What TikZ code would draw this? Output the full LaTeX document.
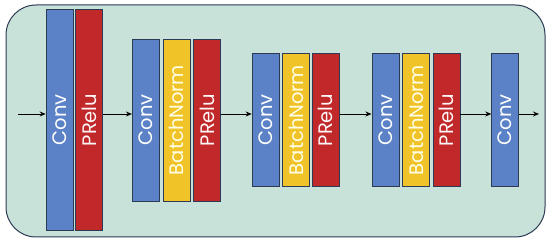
\documentclass[tikz,border=0pt]{standalone}
\usepackage{fontspec}
\setmainfont{Poppins}
\usetikzlibrary{arrows.meta, positioning}

\definecolor{convblue}{RGB}{91,130,198}
\definecolor{bnyellow}{RGB}{240,196,40}
\definecolor{prelured}{RGB}{192,40,42}
\definecolor{panelgreen}{RGB}{200,226,217}
\definecolor{edgenavy}{RGB}{44,58,86}

\tikzset{
    layer/.style={draw=edgenavy, line width=0.6pt, inner sep=0pt, minimum width=27pt, text=white, font=\fontsize{19.5}{19.5}\selectfont},
    conv/.style={layer, fill=convblue},
    bnorm/.style={layer, fill=bnyellow, text=white!90!yellow},
    prelu/.style={layer, fill=prelured, text=white!88!pink},
    flow/.style={-{Stealth[length=6pt,width=5pt]}, line width=0.9pt}
}

\begin{document}
\begin{tikzpicture}[x=1pt, y=1pt, node distance=3pt]
        \useasboundingbox (0,0) rectangle (550,243);
        \draw[edgenavy, fill=panelgreen, line width=1pt, rounded corners=30pt] (6,6) rectangle (545,238);

        % first block
        \node[conv, minimum height=221pt] (C1) at (59.5,123) {\rotatebox{90}{Conv}};
        \node[prelu, minimum height=221pt, right=2pt of C1] (P1) {\rotatebox{90}{PRelu}};

        % second block
        \node[conv, minimum height=162pt, right=29pt of P1] (C2) {\rotatebox{90}{Conv}};
        \node[bnorm, minimum height=162pt, right=of C2] (B2) {\rotatebox{90}{BatchNorm}};
        \node[prelu, minimum height=162pt, right=of B2] (P2) {\rotatebox{90}{PRelu}};

        % third block
        \node[conv, minimum height=133pt, right=31pt of P2] (C3) {\rotatebox{90}{Conv}};
        \node[bnorm, minimum height=133pt, right=of C3] (B3) {\rotatebox{90}{BatchNorm}};
        \node[prelu, minimum height=133pt, right=2pt of B3] (P3) {\rotatebox{90}{PRelu}};

        % fourth block
        \node[conv, minimum height=133pt, right=32pt of P3] (C4) {\rotatebox{90}{Conv}};
        \node[bnorm, minimum height=133pt, right=of C4] (B4) {\rotatebox{90}{BatchNorm}};
        \node[prelu, minimum height=133pt, right=of B4] (P4) {\rotatebox{90}{PRelu}};

        % output conv
        \node[conv, minimum height=133pt, right=31pt of P4] (C5) {\rotatebox{90}{Conv}};

        \coordinate (in) at (18,129);
        \coordinate (out) at (539,129);
        \draw[flow] (in) -- (in -| C1.west);
        \draw[flow] ([yshift=6pt]P1.east) -- ([yshift=6pt]P1.east -| C2.west);
        \draw[flow] ([yshift=6pt]P2.east) -- ([yshift=6pt]P2.east -| C3.west);
        \draw[flow] ([yshift=6pt]P3.east) -- ([yshift=6pt]P3.east -| C4.west);
        \draw[flow] ([yshift=6pt]P4.east) -- ([yshift=6pt]P4.east -| C5.west);
        \draw[flow] ([yshift=6pt]C5.east) -- (out);
    \end{tikzpicture}
\end{document}
